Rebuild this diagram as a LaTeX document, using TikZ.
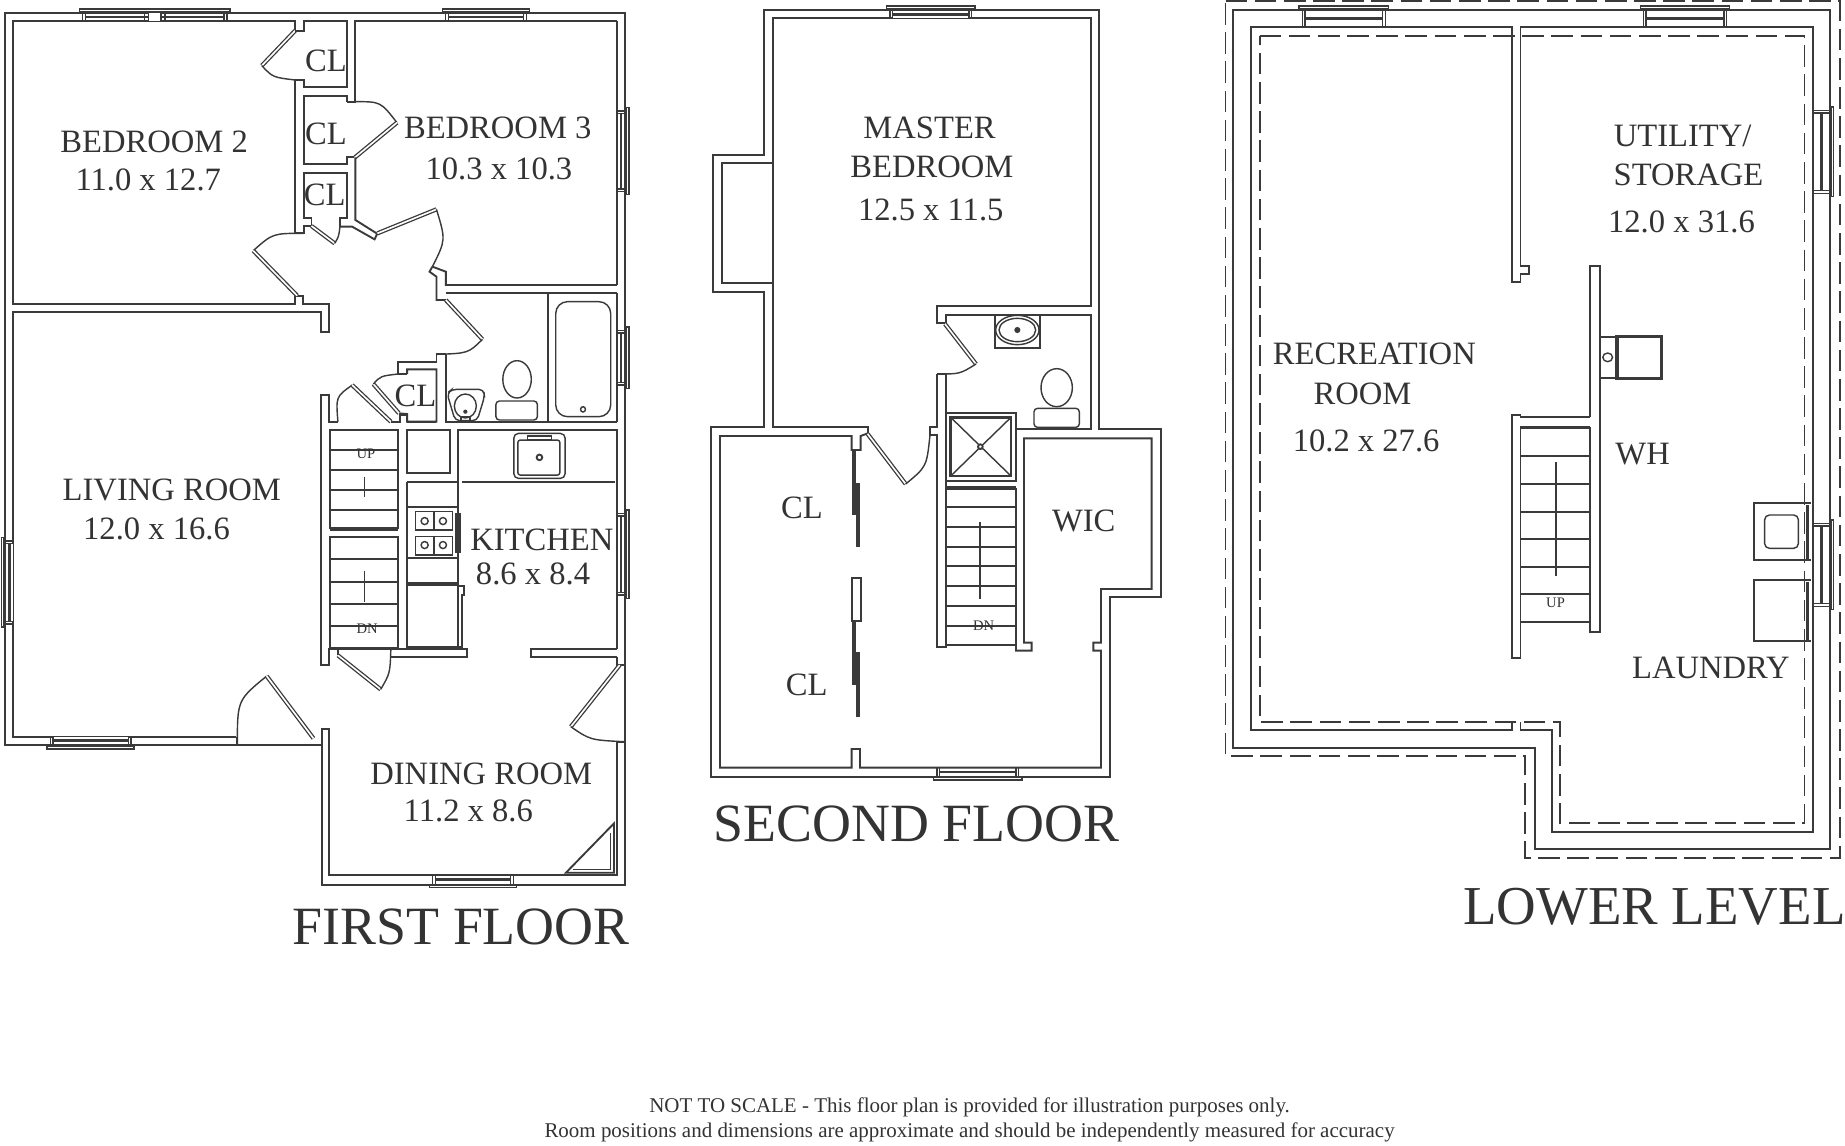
\documentclass[tikz,border=0pt]{standalone}
\usepackage{fontspec}
\setmainfont{Liberation Serif}
\definecolor{wallc}{HTML}{3A3A3A}
\definecolor{txtc}{HTML}{333333}
\tikzset{
 wall/.style={draw=wallc,line width=0.8pt,line join=miter},
 thin wall/.style={draw=wallc,line width=0.6pt},
 leaf/.style={draw=wallc,double=white,double distance=0.7pt,line width=0.55pt},
 heavy/.style={draw=wallc,line width=1.4pt},
 solidbar/.style={fill=wallc,draw=none},
 dashline/.style={draw=wallc,line width=0.8pt,dash pattern=on 9.2pt off 3.2pt},
 room/.style={inner sep=0pt,text=txtc,yshift=-0.4pt,font=\fontsize{13.85}{15}\selectfont},
 title/.style={inner sep=0pt,text=txtc,font=\fontsize{22.9}{25}\selectfont},
 foot/.style={inner sep=0pt,text=txtc,yshift=-0.7pt,font=\fontsize{8.91}{10}\selectfont},
 tiny/.style={inner sep=0pt,text=txtc,font=\fontsize{6.2}{7}\selectfont},
 ca/.style={x=0.173pt,y=-0.14165pt},
 cb/.style={x=0.14165pt,y=-0.14165pt,xshift=297.45pt},
 cc/.style={x=0.1724pt,y=-0.14165pt,xshift=514.2pt},
}
\newcommand\win[5]{%
 \begin{scope}[shift={(#1,#2)},rotate=#4]
  \fill[white] (-#3+5,-#5+0.7) rectangle (#3-5,-0.7);
  \draw[thin wall] (-#3,-#5-3.4) rectangle (#3,-#5-1.2);
  \draw[thin wall] (-#3+2.7,-#5-1.2) rectangle (-#3+5,0);
  \draw[thin wall] (#3-2.7,-#5-1.2) rectangle (#3-5,0);
  \draw[heavy,line width=1.1pt] (-#3+5,-#5*0.5) -- (#3-5,-#5*0.5);
 \end{scope}}
\begin{document}
\begin{tikzpicture}[x=0.5pt,y=-0.5pt]
\useasboundingbox (0,0) rectangle (1568,973.1);
\fill[white] (0,0) rectangle (1568,973.1);

% ---------- FIRST FLOOR
\begin{scope}[ca]
 \draw[wall] (12,38) -- (12,2235) -- (770,2235) -- (790,2235) -- (790,2655) -- (1535,2655) -- (1535,38) -- cycle;
 % bedroom 2 / living room
 \draw[wall] (725,92) -- (725,63) -- (33,63) -- (33,912) -- (725,912) -- (725,887) -- (745,887) -- (745,912) -- (808,912) -- (808,995) -- (788,995) -- (788,937) -- (33,937) -- (33,2210) -- (580,2210);
 \draw[leaf] (725,92) -- (643,197);
 \draw[thin wall] (643,197) .. controls (670,232) .. (725,240);
 \draw[wall] (725,92) -- (747,92) -- (747,63) -- (853,63) -- (853,262) -- (747,262) -- (747,240) -- (725,240) -- (725,700) -- (747,700) -- (747,678) -- (765,678);
 % closet 2
 \draw[wall] (853,305) -- (853,288) -- (747,288) -- (747,493) -- (853,493) -- (853,472) -- (870,472);
 \draw[wall] (853,305) -- (873,305) -- (873,63) -- (1515,63);
 \draw[thin wall] (873,305) .. controls (935,305) .. (975,368);
 \draw[leaf] (975,368) -- (872,472);
 % closet 3
 \draw[wall] (765,678) -- (765,655) -- (747,655) -- (747,520) -- (853,520) -- (853,655) -- (835,655) -- (835,680);
 \draw[leaf] (765,678) -- (822,730);
 \draw[thin wall] (822,730) .. controls (832,710) .. (835,680);
 \draw[wall] (835,680) -- (865,680) -- (920,718) -- (927,700);
 \draw[wall] (873,472) -- (873,660) -- (925,700);
 \draw[leaf] (927,700) -- (1072,628);
 \draw[thin wall] (1072,628) .. controls (1095,720) .. (1062,800);
 \draw[wall] (1062,800) -- (1055,815) -- (1072,830) -- (1072,900) -- (1095,900) ;
 \draw[wall] (1062,800) -- (1095,815) -- (1095,855) -- (1515,855);
 % door from hall to bedroom 2
 \draw[thin wall] (745,700) .. controls (670,700) .. (622,752);
 \draw[leaf] (622,752) -- (730,887);
 % bathroom
 \draw[wall] (1095,880) -- (1515,880);
 \draw[leaf] (1095,900) -- (1185,1018);
 \draw[thin wall] (1185,1018) .. controls (1150,1060) .. (1072,1063);
 \draw[wall] (1095,1063) -- (1095,1265) -- (1515,1265);
 \draw[wall] (1345,880) -- (1345,1265);
 \draw[thin wall,rounded corners=5pt] (1365,905) rectangle (1500,1250);
 \draw[thin wall] (1432,1228) ellipse (6 and 8);
 \draw[thin wall] (1270,1138) ellipse (35 and 56);
 \draw[thin wall,rounded corners=1.5pt] (1218,1203) rectangle (1320,1260);
 \draw[thin wall,rounded corners=2pt] (1098,1180) -- (1110,1168) -- (1188,1168) -- (1190,1190) -- (1172,1262) -- (1118,1262) -- cycle;
 \draw[thin wall] (1143,1218) ellipse (27 and 36);
 \fill[wallc] (1143,1235) circle (0.9pt);
 \draw[wall] (1132,1252) rectangle (1155,1265);
 % closet 4
 \draw[wall] (1072,1063) -- (1095,1063);
 \draw[wall] (1072,1063) -- (1072,1085) -- (978,1085) -- (978,1122);
 \draw[wall] (1000,1122) -- (1000,1108) -- (1072,1108) -- (1072,1265) -- (1000,1265) -- (1000,1242) -- (980,1240);
 \draw[thin wall] (978,1122) -- (1000,1122);
 \draw[leaf] (980,1240) -- (917,1152);
 \draw[thin wall] (917,1152) .. controls (935,1128) .. (978,1122);
 \draw[wall] (1515,63) -- (1515,855);
 \draw[wall] (1515,880) -- (1515,1265);
\end{scope}

\begin{scope}[ca,yshift=-161.5pt]
 % stairs wall
 \draw[wall] (830,125) -- (808,125) -- (808,45) -- (788,45) -- (788,855) -- (808,855) -- (808,808) -- (830,808) -- (830,826);
 \draw[thin wall] (830,125) .. controls (825,50) .. (865,15);
 \draw[leaf] (865,15) -- (960,125);
 \draw[wall] (960,125) -- (982,125) -- (982,105) -- (1000,105) -- (1000,125);
 \draw[wall] (1000,125) -- (1072,125);
 \draw[wall] (810,150) rectangle (978,445);
 \draw[wall] (810,472) rectangle (978,805);
 \draw[heavy] (810,447) -- (978,447);
 \foreach \yy in {210,270,330,390,538,605,672,738} \draw[wall] (810,\yy) -- (978,\yy);
 \draw[thin wall] (895,290) -- (895,350);
 \draw[thin wall] (895,572) -- (895,665);
 % door under stairs
 \draw[leaf] (830,826) -- (935,928);
 \draw[thin wall] (935,928) .. controls (958,880) .. (960,808);
 \draw[wall] (810,808) -- (1147,808) -- (1147,832) -- (960,832);
 % kitchen
 \draw[wall] (1000,150) rectangle (1105,278);
 \draw[wall] (1125,805) -- (1125,150) -- (1515,150) -- (1515,808);
 \draw[wall] (1135,305) -- (1510,305);
 \draw[wall] (1000,305) -- (1125,305);
 \draw[wall] (1000,305) -- (1000,805);
 \draw[thin wall,rounded corners=2pt] (1262,160) rectangle (1388,295);
 \draw[thin wall,rounded corners=1pt] (1272,180) rectangle (1375,285);
 \draw[thin wall] (1295,168) rectangle (1355,178);
 \draw[wall] (1325,232) circle (1.2pt);
 % cooktop
 \draw[wall] (1000,380) rectangle (1125,535);
 \draw[thin wall] (1020,395) rectangle (1112,450);
 \draw[thin wall] (1020,470) rectangle (1112,525);
 \draw[thin wall] (1066,395) -- (1066,450);
 \draw[thin wall] (1066,470) -- (1066,525);
 \foreach \xx/\yy in {1043/423,1088/423,1043/495,1088/495} \draw[thin wall] (\xx,\yy) circle (1.5pt);
 \fill[wallc] (1118,400) rectangle (1132,520);
 % fridge
 \draw[heavy] (1000,612) -- (1125,612);
 \draw[wall] (1125,618) -- (1140,618) -- (1140,645) -- (1135,645) -- (1135,800) -- (1000,800);
 % partial wall
 \draw[wall] (1515,832) -- (1305,832) -- (1305,808) -- (1515,808);
 % right wall & door
 \draw[wall] (1515,832) -- (1515,855) -- (1535,855);
 \draw[leaf] (1522,855) -- (1402,1040);
 \draw[thin wall] (1402,1040) .. controls (1450,1080) .. (1535,1085);
 \draw[wall] (1535,1085) -- (1515,1085) -- (1515,1485) -- (808,1485) -- (808,1048) -- (790,1048) -- (790,1095);
 % corner shelf
 \draw[wall] (1390,1478) -- (1508,1478) -- (1508,1330) -- cycle;
 \draw[thin wall] (1408,1468) -- (1500,1468) -- (1500,1358);
 % entry door
 \draw[thin wall] (583,1095) .. controls (583,960) .. (655,888);
 \draw[leaf] (655,888) -- (770,1075);
 \draw[wall] (583,1095) -- (583,1070);
\end{scope}
\win{131.5}{18}{64}{0}{7}
\begin{scope}[ca]
 \draw[thin wall] (355,38) rectangle (365,63);
 \draw[thin wall] (395,38) rectangle (405,63);
 \fill[white] (366,40) rectangle (394,62);
\end{scope}
\win{413}{18}{37}{0}{7}
\win{524.2}{128.5}{37}{-90}{7}
\win{524.2}{304}{26}{-90}{7}
\win{524.2}{471}{37.5}{-90}{7}
\win{11.5}{495}{38}{90}{7}
\win{77}{626}{37}{180}{7}
\win{402}{744}{37}{180}{7}

% ---------- SECOND FLOOR
\begin{scope}[cb]
 \draw[wall] (193,30) -- (193,465) -- (40,465) -- (40,875) -- (193,875) -- (193,1280) -- (33,1280) -- (33,2330) -- (1230,2330) -- (1230,1792) -- (1382,1792) -- (1382,1288) -- (1197,1288) -- (1197,30) -- cycle;
 \draw[wall] (503,1300) -- (503,1280) -- (218,1280) -- (218,848) -- (65,848) -- (65,490) -- (218,490) -- (218,55) -- (1172,55) -- (1172,917) -- (712,917) -- (712,970) -- (735,970);
 \draw[wall] (218,490) -- (218,848);
 \draw[leaf] (735,972) -- (828,1092);
 \draw[thin wall] (828,1092) .. controls (780,1122) .. (712,1122);
 \draw[wall] (712,1122) -- (712,1280) -- (690,1280) -- (690,1305) -- (712,1305) -- (712,1940) -- (738,1940) -- (738,1122) -- (712,1122);
 \draw[wall] (738,970) -- (738,945) -- (1172,945) -- (1172,1288) -- (948,1288);
 % sink
 \draw[wall] (885,945) rectangle (1020,1045);
 \draw[thin wall] (952,990) ellipse (65 and 44);
 \draw[thin wall] (952,990) ellipse (55 and 35);
 \fill[wallc] (952,990) circle (1.3pt);
 \draw[thin wall] (1070,1163) ellipse (47 and 57);
 \draw[thin wall,rounded corners=1.5pt] (1002,1225) rectangle (1138,1282);
 % shower
 \draw[wall] (738,1238) rectangle (948,1442);
 \draw[heavy,line width=1.1pt] (752,1252) rectangle (933,1428);
 \draw[thin wall] (752,1252) -- (933,1428);
 \draw[thin wall] (933,1252) -- (752,1428);
 \filldraw[wall,fill=white] (841,1340) circle (1pt);
 % stairs
 \draw[heavy] (738,1464) -- (948,1464);
 \foreach \yy in {1522,1580,1640,1698,1758,1817,1878,1935} \draw[wall] (738,\yy) -- (948,\yy);
 \draw[wall] (841,1565) -- (841,1797);
 \draw[wall] (948,1464) -- (948,1952) -- (995,1952) -- (995,1928) -- (972,1928) -- (972,1315) -- (1355,1315) -- (1355,1767) -- (1203,1767) -- (1203,1928) -- (1180,1928) -- (1180,1952) -- (1203,1952) -- (1203,2303) -- (480,2303) -- (480,2247) -- (455,2247) -- (455,2303) -- (60,2303) -- (60,1308) -- (455,1308) -- (455,1350) -- (482,1350) -- (482,1308) -- (503,1300);
 % hall door
 \draw[leaf] (503,1302) -- (617,1452);
 \draw[thin wall] (617,1452) .. controls (680,1400) .. (690,1305);
 % sliding doors
 \fill[wallc] (456,1350) rectangle (469,1545);
 \fill[wallc] (468,1448) rectangle (481,1640);
 \draw[wall] (455,1735) rectangle (482,1862);
 \fill[wallc] (456,1862) rectangle (469,2055);
 \fill[wallc] (468,1957) rectangle (481,2152);
\end{scope}
\win{791}{15.6}{37.5}{0}{7}
\win{831}{652.5}{37.5}{180}{7}

% ---------- LOWER LEVEL
\begin{scope}[cc]
 \draw[dashline] (38,3) -- (1552,3) -- (1552,2573) -- (777,2573) -- (777,2268) -- (38,2268) -- cycle;
 \draw[dashline] (122,107) -- (1465,107) -- (1465,2470) -- (862,2470) -- (862,2167) -- (122,2167) -- cycle;
 \draw[wall] (57,30) -- (1528,30) -- (1528,2548) -- (800,2548) -- (800,2243) -- (57,2243) -- cycle;
 \draw[wall] (745,2167) -- (745,2190) -- (100,2190) -- (100,82) -- (745,82) -- (745,845) -- (765,845) -- (765,822) -- (785,822) -- (785,798) -- (765,798) -- (765,82) -- (1487,82) -- (1487,2495) -- (842,2495) -- (842,2190) -- (765,2190) -- (765,2167);
 % stair partition
 \draw[wall] (937,1252) -- (937,798) -- (960,798) -- (960,1895) -- (937,1895) -- (937,1282);
 \draw[wall] (937,1252) -- (765,1252) -- (765,1245) -- (745,1245) -- (745,1975) -- (765,1975) -- (765,1282);
 \draw[heavy] (765,1283) -- (937,1283);
 \foreach \yy in {1368,1452,1535,1618,1700,1783,1865} \draw[wall] (765,\yy) -- (937,\yy);
 \draw[wall] (852,1387) -- (852,1727);
 % water heater
 \draw[wall] (960,1010) -- (1113,1010) -- (1113,1135) -- (960,1135);
 \draw[heavy] (1003,1010) rectangle (1113,1135);
 \draw[thin wall] (980,1072) ellipse (12 and 13);
 % washer and dryer
 \draw[wall] (1480,1510) -- (1340,1510) -- (1340,1680) -- (1480,1680);
 \draw[thin wall,rounded corners=2pt] (1367,1545) rectangle (1450,1645);
 \draw[wall] (1480,1740) -- (1340,1740) -- (1340,1922) -- (1480,1922);
 \draw[heavy] (1472,1515) -- (1472,1680);
 \draw[heavy] (1472,1745) -- (1472,1922);
\end{scope}
\win{1142}{23.2}{38}{0}{14.7}
\win{1432}{23.2}{38}{0}{14.7}
\win{1541}{129}{38}{-90}{14}
\win{1541}{480}{38}{-90}{14}

% ---------- TEXT
\node[room] (t1) at (131,120) {BEDROOM 2};
\node[room] (t2) at (126,152) {11.0 x 12.7};
\node[room] (t3) at (277,51) {CL};
\node[room] (t4) at (277,113) {CL};
\node[room] (t5) at (276,165) {CL};
\node[room] (t6) at (423,108) {BEDROOM 3};
\node[room] (t7) at (424,143) {10.3 x 10.3};
\node[room] (t8) at (353,336) {CL};
\node[room] (t9) at (146,416) {LIVING ROOM};
\node[room] (t10) at (133,449) {12.0 x 16.6};
\node[room] (t11) at (460.5,458) {KITCHEN};
\node[room] (t12) at (453,487) {8.6 x 8.4};
\node[room] (t13) at (409,657) {DINING ROOM};
\node[room] (t14) at (398,688) {11.2 x 8.6};
\node[room] (t15) at (790,108) {MASTER};
\node[room] (t16) at (792,141) {BEDROOM};
\node[room] (t17) at (791,178) {12.5 x 11.5};
\node[room] (t18) at (681.5,431) {CL};
\node[room] (t19) at (685.5,581) {CL};
\node[room] (t20) at (921,442) {WIC};
\node[room] (t21) at (1430,115) {UTILITY/};
\node[room] (t22) at (1435,148) {STORAGE};
\node[room] (t23) at (1429,188) {12.0 x 31.6};
\node[room] (t24) at (1168,300) {RECREATION};
\node[room] (t25) at (1158,334) {ROOM};
\node[room] (t26) at (1161,374) {10.2 x 27.6};
\node[room] (t27) at (1396,385) {WH};
\node[room] (t28) at (1454,567) {LAUNDRY};
\node[tiny] (t29) at (311,386) {UP};
\node[tiny] (t30) at (312,534) {DN};
\node[tiny] (t31) at (836,532) {DN};
\node[tiny] (t32) at (1322,512) {UP};
\node[title] (t33) at (392,788) {FIRST FLOOR};
\node[title] (t34) at (779,700) {SECOND FLOOR};
\node[title,font=\fontsize{23.3}{25}\selectfont] (t35) at (1406,771) {LOWER LEVEL};
\node[foot] (t36) at (824,940) {NOT TO SCALE - This floor plan is provided for illustration purposes only.};
\node[foot] (t37) at (824,961) {Room positions and dimensions are approximate and should be independently measured for accuracy};
\end{tikzpicture}
\end{document}
